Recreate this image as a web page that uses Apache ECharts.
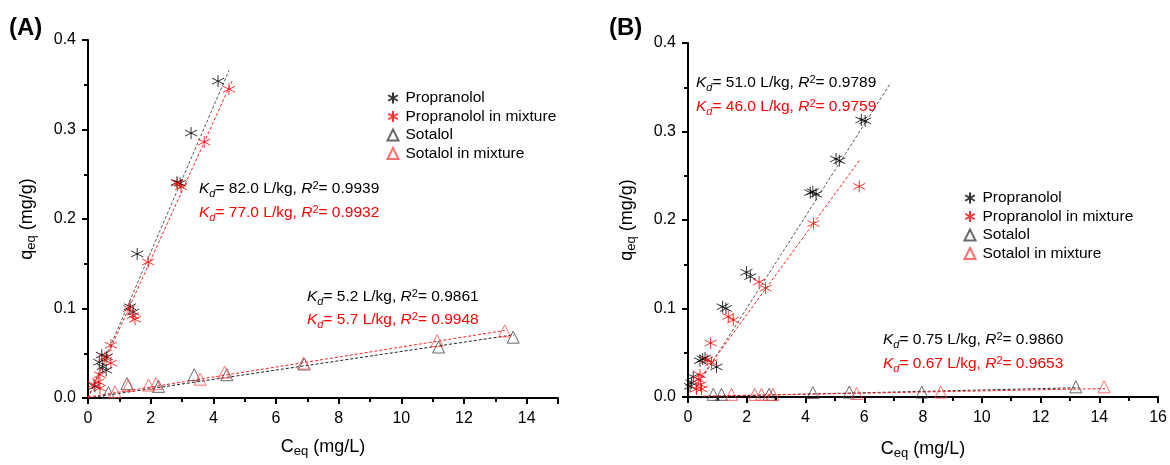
<!DOCTYPE html>
<html><head><meta charset="utf-8">
<script src="https://cdn.jsdelivr.net/npm/echarts@6/dist/echarts.min.js"></script>
<style>html,body{margin:0;padding:0;background:#fff}#c{width:1170px;height:465px}</style>
</head><body><div id="c"></div>
<script>
// ---------- Data (x = Ceq mg/L, y = qeq mg/g) ----------
const propA = [[4.15,0.354],[3.29,0.296],[2.84,0.241],[2.94,0.240],[1.57,0.161],[1.34,0.102],[1.44,0.096],
  [0.44,0.048],[0.60,0.046],[0.36,0.040],[0.47,0.035],[0.58,0.031],[0.22,0.013]];
const propMixA = [[4.50,0.345],[3.71,0.286],[2.97,0.236],[2.85,0.240],[1.92,0.152],[1.31,0.100],[1.43,0.092],[1.50,0.088],
  [0.73,0.059],[0.73,0.039],[0.54,0.045],[0.38,0.026],[0.33,0.018],[0.19,0.015],[0.38,0.011]];
const sotA = [[13.57,0.068],[11.19,0.057],[4.43,0.026],[3.39,0.026],[2.25,0.013],[1.24,0.016],[0.65,0.006],[6.9,0.038]];
const sotMixA = [[13.30,0.075],[11.14,0.064],[6.88,0.039],[4.36,0.029],[3.58,0.021],[2.17,0.016],[1.93,0.0145],[1.29,0.014],[0.86,0.007]];
const fitPropA = [[0.0,0.0],[4.5,0.366]];
const fitPropMixA = [[0.0,0.0],[4.62,0.356]];
const fitSotA = [[0.0,0.0],[13.6,0.0707]];
const fitSotMixA = [[0.0,0.001],[13.3,0.0755]];

const propB = [[6.03,0.312],[5.90,0.313],[5.15,0.267],[5.04,0.269],[4.16,0.231],[4.25,0.232],[4.36,0.229],
  [1.99,0.141],[2.12,0.136],[1.18,0.102],[1.29,0.100],[0.41,0.041],[0.58,0.044],[0.50,0.043],[0.97,0.034],
  [0.18,0.023],[0.12,0.016],[0.07,0.012]];
const propMixB = [[5.83,0.238],[4.27,0.196],[2.64,0.123],[2.42,0.130],[1.37,0.091],[1.54,0.087],[0.77,0.061],
  [0.65,0.042],[0.80,0.039],[0.41,0.025],[0.35,0.020],[0.43,0.014],[0.29,0.009],[0.46,0.009]];
const sotB = [[13.2,0.0115],[7.96,0.0056],[5.49,0.0056],[4.25,0.005],[2.76,0.003],[1.14,0.003],[0.86,0.003]];
const sotMixB = [[14.16,0.0115],[8.6,0.0056],[5.74,0.004],[2.89,0.003],[2.50,0.003],[2.27,0.003],[1.48,0.003]];
const fitPropB = [[0.3,0.012],[6.9,0.355]];
const fitPropMixB = [[0.35,0.018],[5.85,0.268]];
const fitSotB = [[0.5,0.0005],[13.3,0.0105]];
const fitSotMixB = [[0.5,0.001],[14.2,0.0095]];

const names = ['Propranolol','Propranolol in mixture','Sotalol','Sotalol in mixture'];
const annA = [['82.0','0.9939','#000'],['77.0','0.9932','#ff0000'],['5.2','0.9861','#000'],['5.7','0.9948','#ff0000']];
const annB = [['51.0','0.9789','#000'],['46.0','0.9759','#ff0000'],['0.75','0.9860','#000'],['0.67','0.9653','#ff0000']];

// ---------- Chart ----------
const FONT = '"Liberation Sans", Arial, sans-serif';
const star = 'path://M5,0L5,10M0.67,2.5L9.33,7.5M0.67,7.5L9.33,2.5';
const chart = echarts.init(document.getElementById('c'));

const nameRich = {a:{fontSize:18,fontFamily:FONT,color:'#000'},b:{fontSize:13,fontFamily:FONT,color:'#000',padding:[9,0,0,0]}};
function xAxis(gi, max, gap, showMax) {
  return {type:'value', gridIndex:gi, min:0, max:max, interval:2,
    name:'{a|C}{b|eq}{a| (mg/L)}', nameLocation:'middle', nameGap:gap,
    nameTextStyle:{rich:nameRich},
    axisLine:{lineStyle:{color:'#000',width:2}}, axisTick:{length:6,lineStyle:{width:2}},
    minorTick:{show:true,splitNumber:2,length:4,lineStyle:{color:'#000',width:2}},
    axisLabel:{fontSize:16,fontFamily:FONT,color:'#000',margin:13,showMaxLabel:showMax}, splitLine:{show:false}};
}
function yAxis(gi) {
  return {type:'value', gridIndex:gi, min:0, max:0.4, interval:0.1,
    name:'{a|q}{b|eq}{a| (mg/g)}', nameLocation:'middle', nameGap:50,
    nameTextStyle:{rich:nameRich},
    axisLine:{show:true,lineStyle:{color:'#000',width:2}}, axisTick:{show:true,length:6,lineStyle:{width:2}},
    minorTick:{show:true,splitNumber:2,length:4,lineStyle:{color:'#000',width:2}},
    axisLabel:{fontSize:16,fontFamily:FONT,color:'#000',margin:12,formatter:v=>v.toFixed(1)}, splitLine:{show:false}};
}
function scatter(name, data, gi, sym, col, size) {
  return {type:'scatter', name:name, data:data, xAxisIndex:gi, yAxisIndex:gi, symbol:sym, symbolSize:size,
    itemStyle:{color:'none',borderColor:col,borderWidth:1}, z:3};
}
function fit(data, gi, col) {
  return {type:'line', name:'fit', data:data, xAxisIndex:gi, yAxisIndex:gi, symbol:'none', silent:true,
    lineStyle:{color:col,width:1,type:[3,2]}, z:2};
}
function ann(a, x, y) {
  return {type:'text', left:x, top:y, style:{
    text:'{i|K}{s|d}{n|= '+a[0]+' L/kg, }{i|R}{p|2}{n|= '+a[1]+'}',
    rich:{i:{fontSize:15.5,fontStyle:'italic',fontFamily:FONT,fill:a[2]},
          n:{fontSize:15.5,fontFamily:FONT,fill:a[2]},
          s:{fontSize:11,fontStyle:'italic',fontFamily:FONT,fill:a[2],padding:[9,0,0,0]},
          p:{fontSize:11,fontFamily:FONT,fill:a[2],padding:[0,0,7,0]}}}};
}
const legendBase = {orient:'vertical', data:names, itemWidth:11, itemHeight:11, itemGap:2.5,
  textStyle:{fontSize:15.5,fontFamily:FONT,color:'#000',padding:[0,0,0,2]}, selectedMode:false};

chart.setOption({
  animation:false,
  grid:[{left:88,right:612,top:40,bottom:67},{left:688,right:10,top:43,bottom:64}],
  xAxis:[xAxis(0,15,38,false), xAxis(1,16,41,true)],
  yAxis:[yAxis(0), yAxis(1)],
  legend:[Object.assign({left:380,top:85},legendBase), Object.assign({left:957,top:185},legendBase)],
  series:[
    fit(fitPropA,0,'#555'), fit(fitPropMixA,0,'#ff2020'), fit(fitSotA,0,'#222'), fit(fitSotMixA,0,'#ff2020'),
    scatter(names[0],propA,0,star,'#000',12), scatter(names[1],propMixA,0,star,'#ff0000',12),
    scatter(names[2],sotA,0,'triangle','#444',12), scatter(names[3],sotMixA,0,'triangle','#ff4848',12),
    fit(fitPropB,1,'#555'), fit(fitPropMixB,1,'#ff2020'), fit(fitSotB,1,'#222'), fit(fitSotMixB,1,'#ff2020'),
    scatter(names[0],propB,1,star,'#000',12), scatter(names[1],propMixB,1,star,'#ff0000',12),
    scatter(names[2],sotB,1,'triangle','#444',12), scatter(names[3],sotMixB,1,'triangle','#ff4848',12)
  ],
  graphic:[
    {type:'text', left:9, top:16, style:{text:'(A)', fontSize:24, fontWeight:'bold', fontFamily:FONT, fill:'#000'}},
    {type:'text', left:609, top:16, style:{text:'(B)', fontSize:24, fontWeight:'bold', fontFamily:FONT, fill:'#000'}},
    ann(annA[0],199,180), ann(annA[1],199,204), ann(annA[2],307,288), ann(annA[3],307,311),
    ann(annB[0],696,74), ann(annB[1],696,98), ann(annB[2],883,331), ann(annB[3],883,355)
  ]
});
</script></body></html>
